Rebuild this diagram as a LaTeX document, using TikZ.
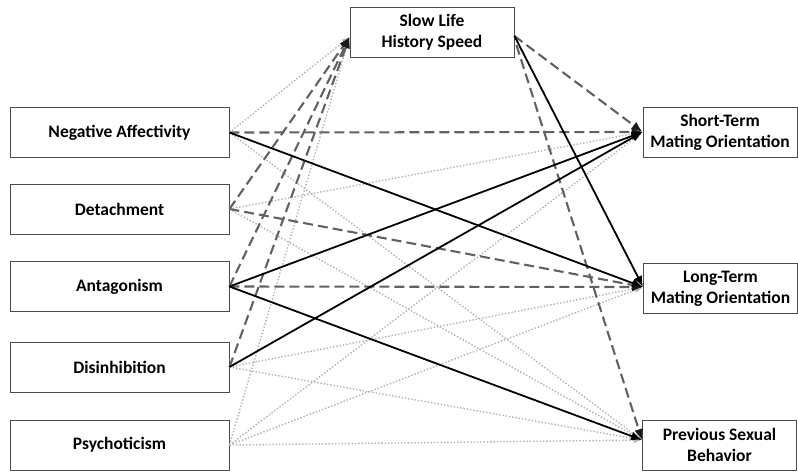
\documentclass[tikz,border=0pt]{standalone}
\usepackage{fontspec}
\setmainfont{Carlito}
\usetikzlibrary{arrows.meta}
\begin{document}
\begin{tikzpicture}[x=1pt,y=-1pt,
  box/.style={draw=black!70, line width=0.9pt, fill=white, inner sep=0pt,
    font=\bfseries\fontsize{17.5}{21}\selectfont, align=center},
  lbox/.style={box, minimum width=219pt, minimum height=50pt},
  rbox/.style={box, minimum width=154pt, minimum height=50pt},
  sol/.style={draw=black, line width=1.8pt, -{Latex[length=11pt,width=9pt]}},
  dsh/.style={draw=black!62, line width=2.1pt, dash pattern=on 10pt off 5pt, -{Latex[length=11pt,width=9pt,color=black!90]}},
  dtt/.style={draw=black!30, line width=1.4pt, dash pattern=on 1.4pt off 1.9pt, -{Latex[length=8pt,width=6pt]}}]
\useasboundingbox (0,0) rectangle (798,472);
% nodes
\node[lbox] (na)  at (119.5,132.5) {Negative Affectivity};
\node[lbox] (det) at (119.5,209) {Detachment};
\node[lbox] (ant) at (119.5,286.5) {Antagonism};
\node[lbox] (dis) at (119.5,367) {Disinhibition};
\node[lbox] (psy) at (119.5,445) {Psychoticism};
\node[box, minimum width=164pt, minimum height=50pt] (slow) at (432,32) {Slow Life\\History Speed};
\node[rbox] (st)  at (720,132) {Short-Term\\Mating Orientation};
\node[rbox] (lt)  at (720.5,288.5) {Long-Term\\Mating Orientation};
\node[rbox] (psb) at (719.5,445) {Previous Sexual\\Behavior};
% connection points
\coordinate (slowin) at ([yshift=-5pt]slow.west);
\coordinate (sA) at ([yshift=-4pt]slow.east);
\coordinate (sB) at ([xshift=2pt,yshift=-13pt]slow.east);
\coordinate (stin) at (st.west);
\coordinate (ltin) at ([yshift=1.5pt]lt.west);
\coordinate (psbin) at ([yshift=5pt]psb.west);
% dotted paths
\draw[dtt] (na.east) -- (slowin);
\draw[dtt] (psy.east) -- (slowin);
\draw[dtt] (na.east) -- (psbin);
\draw[dtt] (det.east) -- (stin);
\draw[dtt] (det.east) -- (psbin);
\draw[dtt] (dis.east) -- (ltin);
\draw[dtt] (dis.east) -- (psbin);
\draw[dtt] (psy.east) -- (stin);
\draw[dtt] (psy.east) -- (ltin);
\draw[dtt] (psy.east) -- (psbin);
% dashed paths
\draw[dsh] (det.east) -- (slowin);
\draw[dsh] (ant.east) -- (slowin);
\draw[dsh] (dis.east) -- (slowin);
\draw[dsh] (na.east) -- (stin);
\draw[dsh] (det.east) -- (ltin);
\draw[dsh] (ant.east) -- (ltin);
\draw[dsh] (sA) -- (stin);
\draw[dsh] (sB) -- (psbin);
% solid paths
\draw[sol] (na.east) -- (ltin);
\draw[sol] (ant.east) -- (stin);
\draw[sol] (dis.east) -- (stin);
\draw[sol] (ant.east) -- (psbin);
\draw[sol] (sA) -- (ltin);
\end{tikzpicture}
\end{document}
